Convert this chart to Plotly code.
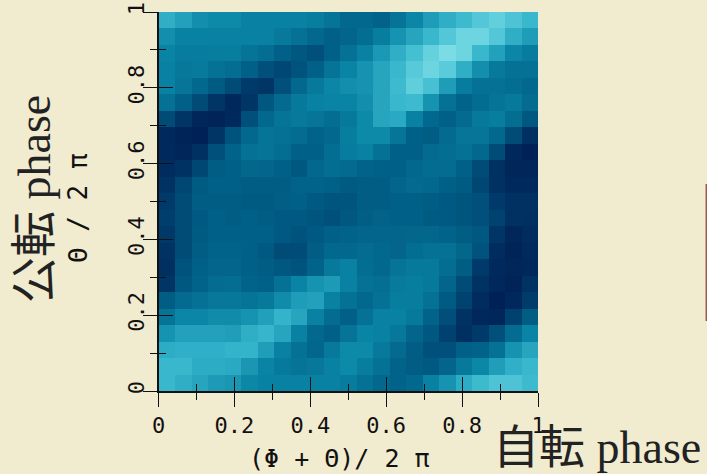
import plotly.graph_objects as go

# cell intensity rows, top row of the picture first
z_rows = [
 [7.5,6.8,5.8,5.5,5.5,5,5,5,5,4.8,4.2,3.5,3.5,3.2,4.2,5.3,6.5,7.5,8.2,9,9.6,8.8,8],
 [5.8,5,5,5,5,5,5,4.5,4,3.5,3,3.3,3.8,4.8,6,7,8,9,10,10,9,7.5,6.5],
 [5.2,4.7,4.7,4.8,4.8,4.2,3.8,3,2.5,2.2,3,4,5,6.3,7.5,8.5,9.7,10.5,10,8,6.8,5.3,4.7],
 [5,4.4,4.6,4,3.8,3,2.2,1.8,2.3,3,4.2,5.2,6,7,8,9.2,10,9.3,7.5,5.8,4.5,4,4],
 [5,4.3,3.5,2.7,2,1.2,1,2.2,3.5,4.5,5.3,5.8,6,7,8.2,9.5,8.6,6.5,4.7,4,4,3.8,3.5],
 [4,3,2,1,.4,1,2.5,3.6,4.5,5,5.2,5.2,5.8,7,8,8.2,6,4,3.2,3.7,4.2,4.5,3.7],
 [2,1,.3,.2,.5,2.2,3.5,4.2,4.5,4.3,3.8,4.5,5.5,7,7.2,5,3.5,3,3.6,4.5,4.8,3.8,2.5],
 [.5,.2,.1,1,2.3,3.5,4.2,4,3.7,3.2,3.5,4.8,5.5,5.5,4.3,3,2.8,3.6,4.3,4.3,3.5,2,.7],
 [.5,.3,.8,2.2,3.2,4,4.2,3.8,3,3,3.8,4.7,5,4,3,3,3.6,3.8,4,3.5,2,.4,.1],
 [.6,.9,1.8,2.8,3,3.4,3.3,3,2.5,3.5,3.8,3.6,3.2,3,3,3.5,3.7,3.7,3,2,.8,.3,.3],
 [.9,1.8,2.7,3,3,2.8,2.8,2.8,3.2,3.2,3,2.7,2.8,2.8,3.3,3.6,3.5,3,2.7,1.8,.8,.5,.5],
 [1.2,2,2.8,2.8,2.8,2.7,2.7,2.9,3,2.6,2.4,2.4,2.8,2.8,3,3,2.8,2.6,2.4,2.2,1.2,.8,.8],
 [1.4,2,2.6,3,2.8,3,2.8,2.6,2.6,2.4,2.2,2.5,2.9,3.1,3,3,2.7,2.6,2.4,2.2,1.6,.8,.7],
 [1.1,2,2.7,3,3,3,3,2.6,2.3,2.6,3,3.2,3.3,3.3,3.3,3.4,3.4,3.2,2.8,2.5,1,.3,.6],
 [.9,2,2.8,3.2,3.2,3,2.6,2,2,2.8,3.5,3.5,3.7,3.5,3.3,3.8,4,4,3.4,2.3,.6,.2,.5],
 [.7,2.3,3,3.3,3.3,3,2.8,2.5,2.3,3.2,4.5,5,3.8,3.5,4.2,4.5,4.5,3.8,2.8,1.2,.5,.3,.4],
 [1,2.5,3.2,3.7,3.8,3.2,3,4,5.2,6,6.4,5,4,3.9,4.6,4.8,4.5,3.3,2,.9,.4,.2,.9],
 [2.8,3.6,4,4.4,4.4,4.2,4.5,5.6,6.5,6.8,5,4,3.5,4,4.8,4.8,4,2.7,1.6,.6,.1,.4,1.3],
 [4.2,5.3,5.3,5.6,5.6,6,6.7,7.8,7,5,3.7,3,4,5,5,4.5,3.2,2.1,.9,.4,.3,1.5,2.8],
 [6,6.8,6.8,6.8,6.6,7.5,7.9,7,5,3.5,3,4.2,5.2,5,4.4,3.3,2.5,1.5,.7,1.2,2.2,3.7,5.2],
 [7.4,7.6,7.6,7.6,7.8,7.8,6.6,5,4,3.4,4.5,5.5,5.5,4.5,3.6,2.8,2.2,2.2,3,3.2,4,6,7],
 [8,8,7.4,7.4,7.2,6.2,5.2,4.5,4.2,4.4,5,5.5,4.8,4,3.2,2.8,2.6,3.3,4.5,5.4,6.6,7.6,8],
 [8,7.5,7,6.4,6.2,5.4,5,5,5,5,5,4.7,4,3.5,3.2,3.5,5,6,7.4,8.2,8.8,8.8,8.2],
]
tick_vals = [0, 0.2, 0.4, 0.6, 0.8, 1]
tick_text = ["0", "0.2", "0.4", "0.6", "0.8", "1"]
minor_vals = [0.1, 0.3, 0.5, 0.7, 0.9]
colors = [[0, "#001f55"], [0.25, "#005a82"], [0.5, "#0a85a5"], [0.75, "#35b5cc"], [1, "#7adde5"]]

W, H = 707, 474
n = len(z_rows)
centers = [(i + 0.5) / n for i in range(n)]
BG = "#f1ebcf"
MONO = "DejaVu Sans Mono"
SERIF = "Liberation Serif, Noto Sans CJK JP"

fig = go.Figure()
fig.add_trace(go.Heatmap(z=z_rows[::-1], x=centers, y=centers, zmin=0, zmax=10.5,
                         colorscale=colors, showscale=False, hoverinfo="skip"))
fig.add_trace(go.Scatter(x=[0], y=[0], xaxis="x2", yaxis="y2", mode="markers",
                         marker=dict(opacity=0), showlegend=False, hoverinfo="skip"))

dx = [158.5 / W, 538 / W]
dy = [1 - 391 / H, 1 - 12 / H]
common = dict(range=[0, 1], tickmode="array", tickvals=tick_vals, ticktext=tick_text,
              tickcolor="#111", tickwidth=1.3, ticklen=14, showgrid=False, zeroline=False,
              automargin=False, tickfont=dict(family=MONO, size=22, color="#111"))
minor_out = dict(tickmode="array", tickvals=minor_vals, ticks="outside", ticklen=7,
                 tickcolor="#111", tickwidth=1.3, showgrid=False)
minor_in = dict(minor_out, ticks="inside")

fig.update_layout(
    width=W, height=H, margin=dict(l=0, r=0, t=0, b=0, pad=0, autoexpand=False), autosize=False,
    paper_bgcolor=BG, plot_bgcolor=BG, showlegend=False,
    xaxis=dict(common, domain=dx, anchor="y", ticks="outside", showline=True, linecolor="#111",
               linewidth=1.5, minor=minor_out, ticklabelstandoff=0),
    yaxis=dict(common, domain=dy, anchor="x", ticks="outside", showline=True, linecolor="#111",
               linewidth=1.5, minor=minor_out, tickangle=-90, ticklabelstandoff=-10),
    xaxis2=dict(common, domain=dx, anchor="y2", overlaying="x", ticks="inside",
                showticklabels=False, showline=False, minor=minor_in),
    yaxis2=dict(common, domain=dy, anchor="x2", overlaying="y", ticks="inside",
                showticklabels=False, showline=False, minor=minor_in),
    annotations=[
        dict(text="(Φ + Θ)/ 2 π", x=339 / W, y=1 - 458 / H, xref="paper", yref="paper",
             showarrow=False, xanchor="center", yanchor="middle",
             font=dict(family=MONO, size=25, color="#111")),
        dict(text="Θ / 2 π", x=78 / W, y=1 - 208 / H, xref="paper", yref="paper", textangle=-90,
             showarrow=False, xanchor="center", yanchor="middle",
             font=dict(family=MONO, size=26, color="#111")),
        dict(text="公転 phase", x=34 / W, y=1 - 199 / H, xref="paper", yref="paper", textangle=-90,
             showarrow=False, xanchor="center", yanchor="middle",
             font=dict(family=SERIF, size=46, color="#222")),
        dict(text="自転 phase", x=597 / W, y=1 - 447 / H, xref="paper", yref="paper",
             showarrow=False, xanchor="center", yanchor="middle",
             font=dict(family=SERIF, size=46, color="#222")),
    ],
    shapes=[dict(type="line", xref="paper", yref="paper", x0=706.3 / W, x1=706.3 / W,
                 y0=1 - 184 / H, y1=1 - 321 / H, line=dict(color="#a0554a", width=1.5))],
)
fig.write_html("out.html", config=dict(displayModeBar=False),
               post_script="document.documentElement.style.margin='0';document.body.style.margin='0';document.body.style.overflow='hidden';document.body.style.background='#f1ebcf';")
